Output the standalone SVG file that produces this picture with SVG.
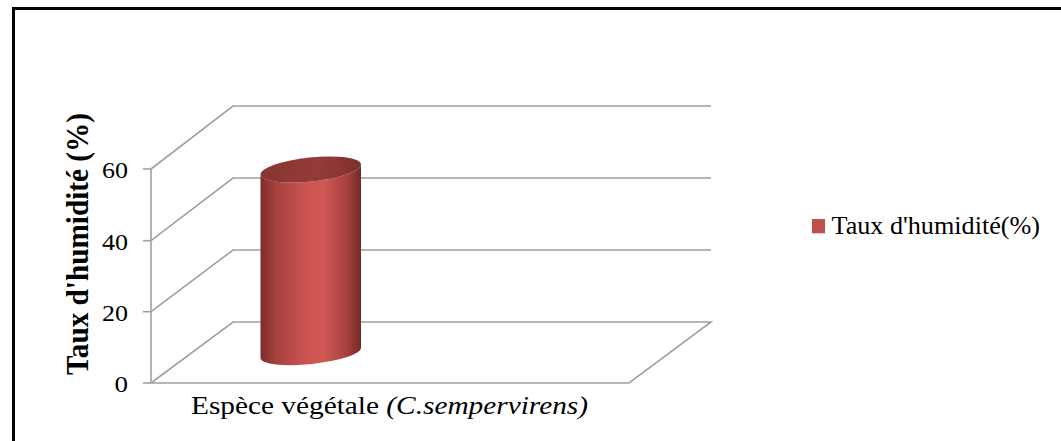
<svg xmlns="http://www.w3.org/2000/svg" width="1061" height="441" viewBox="0 0 1061 441">
<defs>
<style>
.grid{stroke:#a0a0a0;stroke-width:1.6;fill:none}
</style>
<linearGradient id="body" x1="0" y1="0" x2="1" y2="0">
<stop offset="0" stop-color="#7d2d2b"/>
<stop offset="0.15" stop-color="#a4403d"/>
<stop offset="0.45" stop-color="#cb5451"/>
<stop offset="0.62" stop-color="#d05956"/>
<stop offset="0.85" stop-color="#a8423f"/>
<stop offset="1" stop-color="#732a28"/>
</linearGradient>
<linearGradient id="top" x1="0" y1="0" x2="1" y2="0">
<stop offset="0" stop-color="#8a3532"/>
<stop offset="0.6" stop-color="#933b39"/>
<stop offset="1" stop-color="#7e302e"/>
</linearGradient>
</defs>
<rect width="1061" height="441" fill="#fff"/>
<g id="frame">
<line x1="12" y1="8.5" x2="1061" y2="8.5" stroke="#000" stroke-width="3"/>
<line x1="13.5" y1="7" x2="13.5" y2="441" stroke="#000" stroke-width="3"/>
</g>
<g id="grid">
<polyline class="grid" points="151,169 233,106 711,106"/>
<polyline class="grid" points="151,240.7 233,178 711,178"/>
<polyline class="grid" points="151,311.7 233,250 711,250"/>
<polyline class="grid" points="151,383 233,322 711,322 629,383 151,383"/>
<line class="grid" x1="151" y1="169" x2="151" y2="383"/>
<line class="grid" x1="143" y1="169" x2="151" y2="169"/>
<line class="grid" x1="143" y1="240.7" x2="151" y2="240.7"/>
<line class="grid" x1="143" y1="311.7" x2="151" y2="311.7"/>
<line class="grid" x1="143" y1="383" x2="151" y2="383"/>
</g>
<g id="ticks" font-family="'Liberation Serif', 'Times New Roman', serif" font-size="24" text-anchor="end" fill="#000">
<text x="128" y="178.3" textLength="26" lengthAdjust="spacingAndGlyphs">60</text>
<text x="128" y="249.5" textLength="26" lengthAdjust="spacingAndGlyphs">40</text>
<text x="128" y="320.5" textLength="26" lengthAdjust="spacingAndGlyphs">20</text>
<text x="128" y="391.7" textLength="13.5" lengthAdjust="spacingAndGlyphs">0</text>
</g>
<g id="bar">
<path d="M260.5,174.8 L260.5,358.3 A50.5,11 -6 0 0 361,347.7 L361,164.2 A50.5,12 -6 0 1 260.5,174.8 Z" fill="url(#body)"/>
<ellipse cx="310.75" cy="169.5" rx="50.5" ry="12" transform="rotate(-6 310.75 169.5)" fill="url(#top)"/>
</g>
<g id="ytitle">
<text transform="translate(88,244) scale(1.15,1) rotate(-90)" text-anchor="middle" font-family="'Liberation Serif', 'Times New Roman', serif" font-size="28" font-weight="bold" fill="#000" textLength="262" lengthAdjust="spacingAndGlyphs">Taux d'humidité (%)</text>
</g>
<g id="xlabel">
<text x="191" y="413.5" font-family="'Liberation Serif', 'Times New Roman', serif" font-size="25" fill="#000" textLength="397" lengthAdjust="spacingAndGlyphs">Espèce végétale <tspan font-style="italic">(C.sempervirens)</tspan></text>
</g>
<g id="legend">
<rect x="812" y="219" width="13" height="14.3" fill="#c0504d"/>
<text x="831.5" y="234.3" font-family="'Liberation Serif', 'Times New Roman', serif" font-size="25" fill="#000" textLength="208.5" lengthAdjust="spacingAndGlyphs">Taux d'humidité(%)</text>
</g>
</svg>
